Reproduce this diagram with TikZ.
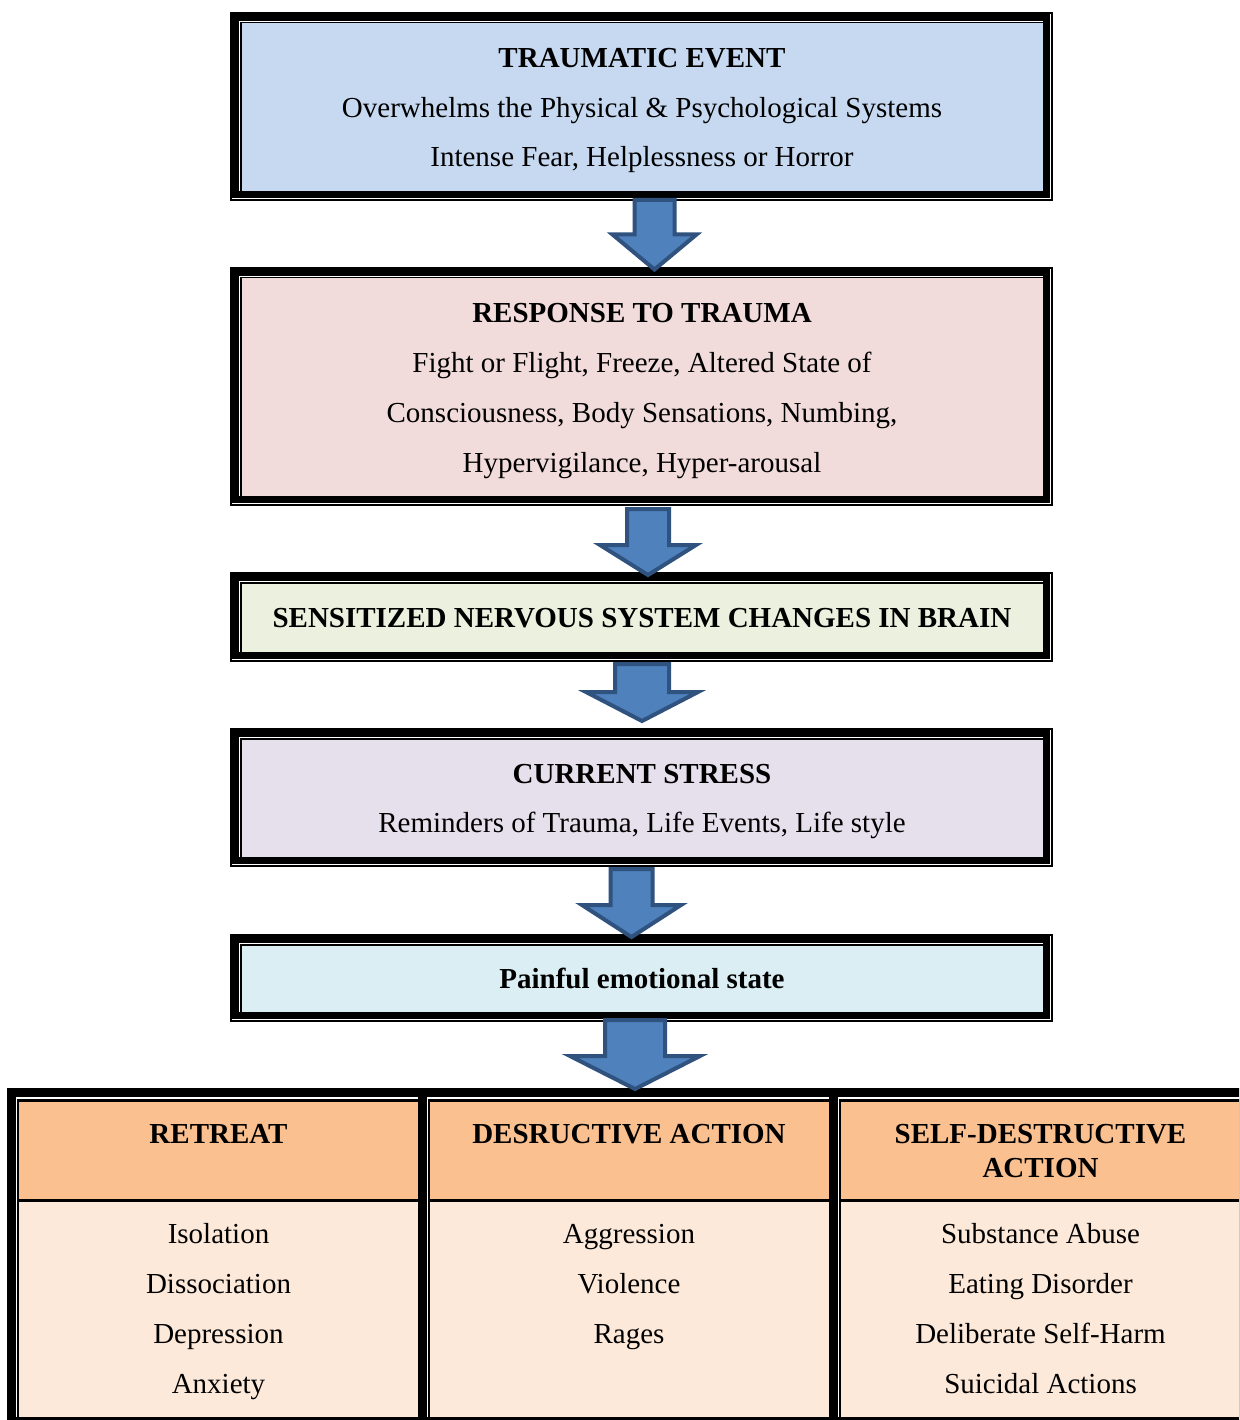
\documentclass[tikz,border=0pt]{standalone}
\usepackage{fontspec}
\setmainfont{Liberation Serif}
\usetikzlibrary{calc}

\definecolor{boxA}{HTML}{C6D9F1}
\definecolor{boxB}{HTML}{F2DCDB}
\definecolor{boxC}{HTML}{EBF1DE}
\definecolor{boxD}{HTML}{E5E0EC}
\definecolor{boxE}{HTML}{DBEEF4}
\definecolor{hdrfill}{HTML}{FAC090}
\definecolor{bodyfill}{HTML}{FDE9D9}
\definecolor{arrowfill}{HTML}{4F81BD}
\definecolor{arrowline}{HTML}{30527F}

% thick-thin framed box: #1,#2 top-left corner, #3,#4 bottom-right corner, #5 fill
\newcommand\flowbox[5]{%
  \fill[black] (#1,#2) rectangle ({#3-3},{#4-3});
  \draw[black,line width=1.6pt] ({#1+0.8},{#2+0.8}) rectangle ({#3-0.8},{#4-0.8});
  \fill[white] ({#1+9},{#2+9}) rectangle ({#3-10},{#4-10});
  \fill[black] ({#1+10},{#2+10}) rectangle ({#3-10},{#4-10});
  \fill[#5] ({#1+11.5},{#2+11.5}) rectangle ({#3-10},{#4-10});
}

% block arrow from coordinate #1 (top of shaft) to coordinate #2 (tip);
% #3 shaft half width, #4 head half width, #5 head length
\newcommand\blockarrow[5]{%
  \draw[barrow] ($(#1)+(-#3,0)$) -- ($(#1)+(#3,0)$) -- ($(#2)+(#3,-#5)$)
    -- ($(#2)+(#4,-#5)$) -- (#2) -- ($(#2)+(-#4,-#5)$) -- ($(#2)+(-#3,-#5)$) -- cycle;
}

\begin{document}
\begin{tikzpicture}[x=1pt,y=-1pt,
  txt/.style={anchor=base,inner sep=0pt,font=\fontsize{29}{35}\selectfont},
  hd/.style={anchor=base,inner sep=0pt,font=\fontsize{29}{35}\selectfont\bfseries},
  barrow/.style={fill=arrowfill,draw=arrowline,line width=4pt,line join=miter}]
\useasboundingbox (0,0) rectangle (1239,1420);
\clip (0,0) rectangle (1239,1420);
\fill[white] (0,0) rectangle (1239,1420);

% ---- stacked boxes ----
\flowbox{230}{12}{1053}{201}{boxA}
\flowbox{230}{267}{1053}{506}{boxB}
\flowbox{230}{572}{1053}{662}{boxC}
\flowbox{230}{728}{1053}{867}{boxD}
\flowbox{230}{934}{1053}{1022}{boxE}

\node[hd]  (t1a) at (642,68)    {TRAUMATIC EVENT};
\node[txt] (t1b) at (642,117.5) {Overwhelms the Physical \& Psychological Systems};
\node[txt] (t1c) at (642,167)   {Intense Fear, Helplessness or Horror};

\node[hd]  (t2a) at (642,323) {RESPONSE TO TRAUMA};
\node[txt] (t2b) at (642,372) {Fight or Flight, Freeze, Altered State of};
\node[txt] (t2c) at (642,422) {Consciousness, Body Sensations, Numbing,};
\node[txt] (t2d) at (642,472) {Hypervigilance, Hyper-arousal};

\node[hd]  (t3a) at (642,627) {SENSITIZED NERVOUS SYSTEM CHANGES IN BRAIN};

\node[hd]  (t4a) at (642,783) {CURRENT STRESS};
\node[txt] (t4b) at (642,832) {Reminders of Trauma, Life Events, Life style};

\node[hd]  (t5a) at (642,988) {Painful emotional state};

% ---- outcome table ----
\fill[black] (7.3,1088.3) rectangle (1260,1430);
\foreach \gl/\fr in {15.7/418.3, 426.7/829.3, 837.7/1260} {
  \fill[white] (\gl,1096.7) rectangle (\fr,1417);
  \fill[black] (\gl+1.3,1099) rectangle (\fr,1417);
  \fill[hdrfill] (\gl+2.9,1101.7) rectangle (\fr,1199.3);
  \fill[bodyfill] (\gl+2.9,1201.7) rectangle (\fr,1417);
}

\node[hd]  (h1)  at (218.5,1143)  {RETREAT};
\node[hd]  (h2)  at (629,1143)    {DESRUCTIVE ACTION};
\node[hd]  (h3a) at (1040.5,1143) {SELF-DESTRUCTIVE};
\node[hd]  (h3b) at (1040.5,1177) {ACTION};

\node[txt] (r1a) at (218.5,1243) {Isolation};
\node[txt] (r1b) at (218.5,1293) {Dissociation};
\node[txt] (r1c) at (218.5,1343) {Depression};
\node[txt] (r1d) at (218.5,1393) {Anxiety};

\node[txt] (r2a) at (629,1243) {Aggression};
\node[txt] (r2b) at (629,1293) {Violence};
\node[txt] (r2c) at (629,1343) {Rages};

\node[txt] (r3a) at (1040.5,1243) {Substance Abuse};
\node[txt] (r3b) at (1040.5,1293) {Eating Disorder};
\node[txt] (r3c) at (1040.5,1343) {Deliberate Self-Harm};
\node[txt] (r3d) at (1040.5,1393) {Suicidal Actions};

% ---- block arrows between stages ----
\coordinate (a1s) at (654.5,200);  \coordinate (a1e) at (654.5,269.5);
\coordinate (a2s) at (648,509);    \coordinate (a2e) at (648,575);
\coordinate (a3s) at (642,664);    \coordinate (a3e) at (642,721);
\coordinate (a4s) at (631.5,869);  \coordinate (a4e) at (631.5,937);
\coordinate (a5s) at (635,1020);   \coordinate (a5e) at (635,1089);

\blockarrow{a1s}{a1e}{20}{42}{35}
\blockarrow{a2s}{a2e}{21}{48}{30}
\blockarrow{a3s}{a3e}{27}{56}{29}
\blockarrow{a4s}{a4e}{21}{49.5}{32}
\blockarrow{a5s}{a5e}{30}{65}{33}
\end{tikzpicture}
\end{document}
